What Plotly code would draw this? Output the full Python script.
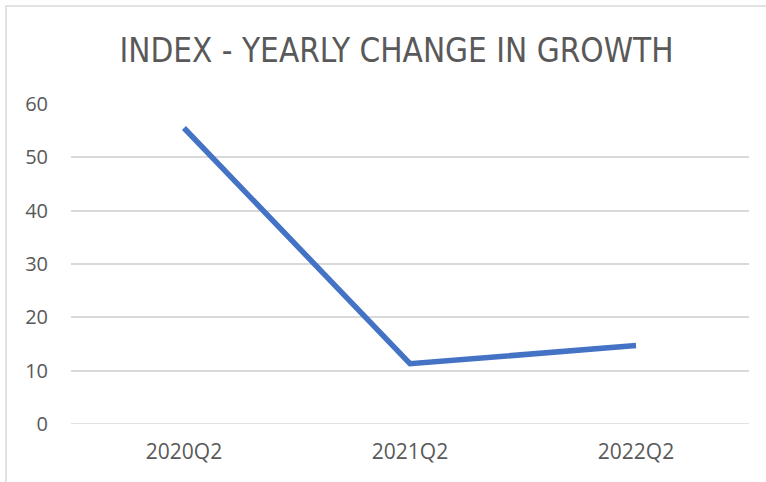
import plotly.graph_objects as go

categories = ["2020Q2", "2021Q2", "2022Q2"]
values = [55.5, 11.3, 14.7]
y_ticks = [0, 10, 20, 30, 40, 50, 60]

W, H = 766, 482
L, R, T, B = 71, 17, 104, 58
pw, ph = W - L - R, H - T - B

fig = go.Figure(go.Scatter(
    x=categories, y=values, mode="lines",
    line=dict(color="#4472C4", width=5.5, shape="linear"),
    hoverinfo="x+y",
))

fig.update_layout(
    width=W, height=H,
    margin=dict(l=L, r=R, t=T, b=B, pad=0),
    paper_bgcolor="white", plot_bgcolor="white",
    showlegend=False,
    title=dict(
        text="INDEX - YEARLY CHANGE IN GROWTH",
        x=396.5 / W, xanchor="center", xref="container",
        y=1 - 50 / H, yanchor="middle", yref="container",
        font=dict(family="Liberation Sans Narrow, DejaVu Sans Condensed, sans-serif", size=33, color="#595959"),
    ),
    font=dict(family="Open Sans, sans-serif", color="#595959", size=20),
)

fig.update_xaxes(
    type="category", range=[-0.5, 2.5],
    showgrid=False, zeroline=False, showline=False,
    ticks="", ticklabelstandoff=13,
    tickfont=dict(size=21, color="#595959"),
)
fig.update_yaxes(
    range=[0, 60], tickvals=y_ticks,
    showgrid=True, gridcolor="#D9D9D9", gridwidth=1.5,
    zeroline=False, showline=False,
    ticks="", ticklabelstandoff=22,
    tickfont=dict(size=20, color="#595959"),
)
fig.add_shape(type="line", xref="paper", yref="y", x0=0, x1=1, y0=0, y1=0,
              line=dict(color="#D9D9D9", width=1.5), layer="below")

# chart border (left and top visible)
fig.add_shape(type="rect", xref="paper", yref="paper",
              x0=(6 - L) / pw, x1=1.2, y0=-0.5, y1=(H - B - 6) / ph,
              line=dict(color="#D9D9D9", width=1.5), layer="below")

fig.write_html("out.html",
               config={"displayModeBar": False},
               post_script="document.body.style.margin='0';document.body.style.padding='0';")
